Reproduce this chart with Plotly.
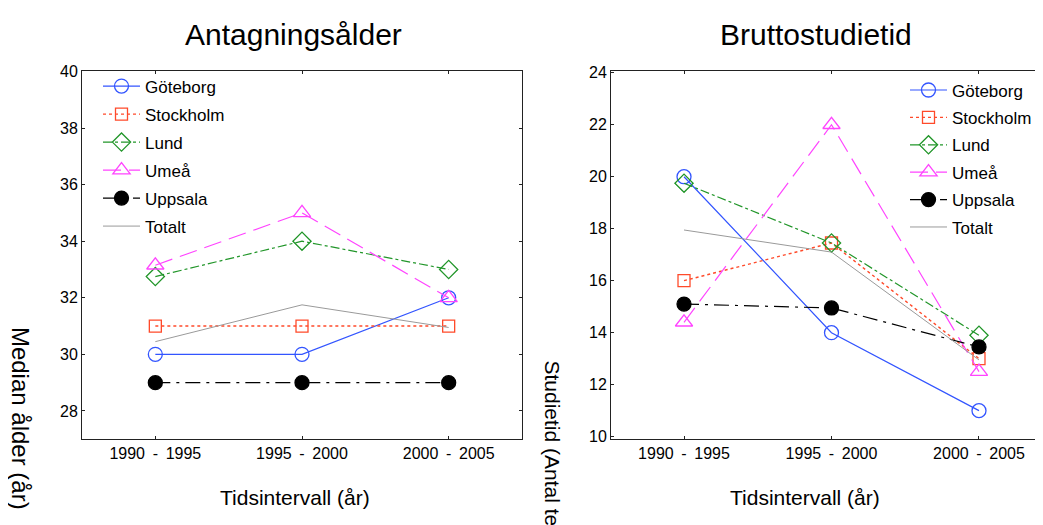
import plotly.graph_objects as go

periods = ["1990 - 1995", "1995 - 2000", "2000 - 2005"]
period_labels = ["1990 \u2009-\u2009 1995", "1995 \u2009-\u2009 2000", "2000 \u2009-\u2009 2005"]
series_names = ["Göteborg", "Stockholm", "Lund", "Umeå", "Uppsala", "Totalt"]

# Antagningsålder (median age)
age_goteborg = [30, 30, 32]
age_stockholm = [31, 31, 31]
age_lund = [32.75, 34, 33]
age_umea = [33.15, 35, 32]
age_uppsala = [29, 29, 29]
age_totalt = [30.45, 31.75, 30.95]

# Bruttostudietid (study time)
st_goteborg = [20, 14, 11]
st_stockholm = [16, 17.45, 13]
st_lund = [19.75, 17.45, 13.9]
st_umea = [14.4, 22, 12.5]
st_uppsala = [15.1, 14.95, 13.45]
st_totalt = [17.95, 17.1, 12.95]

age_values = [age_goteborg, age_stockholm, age_lund, age_umea, age_uppsala, age_totalt]
st_values = [st_goteborg, st_stockholm, st_lund, st_umea, st_uppsala, st_totalt]

styles = [
    dict(color="#3355ff", dash="solid", symbol="circle-open", size=14, width=1.2),
    dict(color="#ff4a2a", dash="dot", symbol="square-open", size=12, width=1.4),
    dict(color="#22962a", dash="dashdot", symbol="diamond-open", size=14, width=1.2),
    dict(color="#ff44ff", dash="18px,8px", symbol="triangle-up-open", size=15, width=1.2),
    dict(color="#000000", dash="longdashdot", symbol="circle", size=14, width=1.2),
    dict(color="#9a9a9a", dash="solid", symbol=None, size=0, width=1),
]

FONT = "Liberation Sans, Arial, sans-serif"
fig = go.Figure()

for values, xa, ya, leg in [(age_values, "x", "y", "legend"), (st_values, "x2", "y2", "legend2")]:
    for i, (name, vals, st) in enumerate(zip(series_names, values, styles)):
        if st["symbol"] is None:
            mode = "lines"
            marker = None
        else:
            mode = "lines+markers"
            marker = dict(symbol=st["symbol"], size=st["size"], color=st["color"],
                          line=dict(color=st["color"], width=1.3))
        fig.add_trace(go.Scatter(
            x=periods, y=vals, name=name, mode=mode, marker=marker,
            line=dict(color=st["color"], dash=st["dash"], width=st["width"]),
            xaxis=xa, yaxis=ya, legend=leg, legendgroup=f"{leg}{i}",
        ))

# page has an 8px body margin: figure coordinates = reference pixel - 8
OFF = 8
W, H = 1043 - OFF, 525 - OFF
def px_x(p): return (p - OFF) / W
def px_y(p): return 1 - (p - OFF) / H

axis_common = dict(showline=True, linecolor="#222", linewidth=1, ticks="inside", ticklen=3,
                   tickcolor="#222", showgrid=False, zeroline=False,
                   tickfont=dict(family=FONT, size=16, color="#000"))

fig.update_layout(
    width=W, height=H, margin=dict(l=0, r=0, t=0, b=0),
    paper_bgcolor="white", plot_bgcolor="white", font=dict(family=FONT, color="#000"),
    xaxis=dict(domain=[px_x(82), px_x(522)], anchor="y", type="category", range=[-0.5, 2.5],
               tickvals=periods, ticktext=period_labels, mirror="ticks", **axis_common),
    yaxis=dict(domain=[px_y(443), px_y(65)], anchor="x", range=[27, 40], dtick=2,
               mirror="ticks", **axis_common),
    xaxis2=dict(domain=[px_x(611), 1.0], anchor="y2", type="category", range=[-0.495, 2.434],
                tickvals=periods, ticktext=period_labels, mirror="ticks", **axis_common),
    yaxis2=dict(domain=[px_y(443), px_y(65)], anchor="x2", range=[9.9, 24.05], dtick=2,
                mirror=False, **axis_common),
    legend=dict(x=px_x(98), y=px_y(62), xanchor="left", yanchor="top", bgcolor="rgba(0,0,0,0)",
                font=dict(family=FONT, size=17), itemwidth=37, tracegroupgap=2.9, traceorder="grouped"),
    legend2=dict(x=px_x(905), y=px_y(66), xanchor="left", yanchor="top", bgcolor="rgba(0,0,0,0)",
                 font=dict(family=FONT, size=17), itemwidth=37, tracegroupgap=2.3, traceorder="grouped"),
    showlegend=True,
)

annotations = [
    dict(text="Antagningsålder", x=293, y=27, size=30),
    dict(text="Bruttostudietid", x=816, y=27, size=30),
    dict(text="Tidsintervall (år)", x=295, y=503, size=21),
    dict(text="Tidsintervall (år)", x=805, y=503, size=21),
]
for a in annotations:
    fig.add_annotation(xref="paper", yref="paper", showarrow=False, xanchor="center", yanchor="middle",
                       x=px_x(a["x"]), y=px_y(a["y"]), text=a["text"],
                       font=dict(family=FONT, color="#000", size=a["size"]))

fig.add_annotation(xref="paper", yref="paper", showarrow=False, textangle=90,
                   x=px_x(20), y=px_y(325), xanchor="center", yanchor="top",
                   text="Median ålder (år)", font=dict(family=FONT, size=24, color="#000"))
fig.add_annotation(xref="paper", yref="paper", showarrow=False, textangle=90,
                   x=px_x(553), y=px_y(360), xanchor="center", yanchor="top",
                   text="Studietid (Antal terminer)", font=dict(family=FONT, size=21, color="#000"))

fig.write_html("out.html")
